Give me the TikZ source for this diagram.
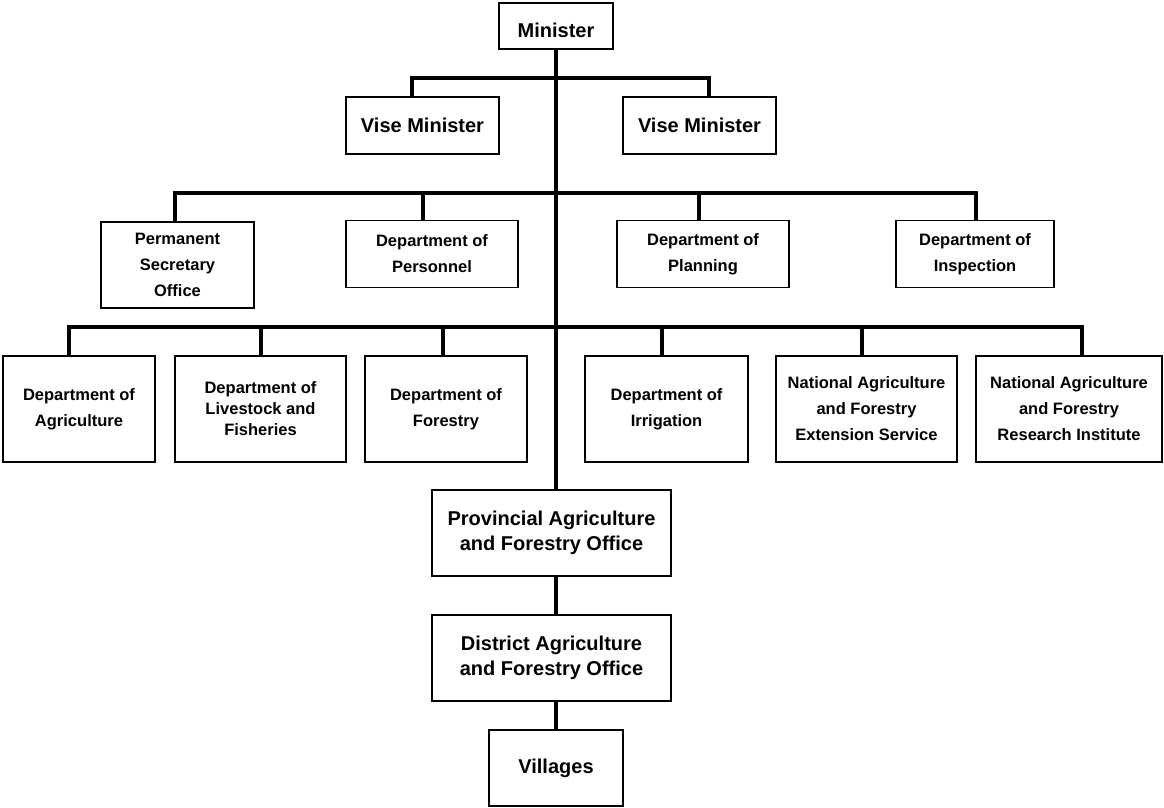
\documentclass[tikz,border=0pt]{standalone}
\usepackage{fontspec}
\setmainfont{Liberation Sans}
\begin{document}
\begin{tikzpicture}[x=1pt,y=-1pt,
  orgbox/.style={draw, line width=1.6pt, align=center, inner sep=0pt,
    font=\bfseries\fontsize{16.5}{26}\selectfont},
  bigbox/.style={orgbox, font=\bfseries\fontsize{20}{25}\selectfont},
  conn/.style={line width=3.2pt, line join=miter}]
\useasboundingbox (0,0) rectangle (1164,807);

% top
\node[bigbox, minimum width=114, minimum height=46, text height=22pt, text depth=0pt] (min) at (556,26) {Minister};
\node[bigbox, minimum width=153, minimum height=57] (vm1) at (422.5,125.5) {Vise Minister};
\node[bigbox, minimum width=153, minimum height=57] (vm2) at (699.5,125.5) {Vise Minister};

% row 2
\node[orgbox, minimum width=153, minimum height=86] (pso) at (177.5,265) {Permanent\\Secretary\\Office};
\node[orgbox, minimum width=172, minimum height=67] (per) at (432,254) {Department of\\Personnel};
\node[orgbox, minimum width=172, minimum height=67] (pla) at (703,254) {Department of\\Planning};
\node[orgbox, minimum width=158, minimum height=67] (ins) at (975,254) {Department of\\Inspection};

% row 3
\node[orgbox, minimum width=152, minimum height=106] (agr) at (79,409) {Department of\\Agriculture};
\node[orgbox, minimum width=171, minimum height=106, font=\bfseries\fontsize{16.5}{21}\selectfont] (liv) at (260.5,409) {Department of\\Livestock and\\Fisheries};
\node[orgbox, minimum width=162, minimum height=106] (for) at (446,409) {Department of\\Forestry};
\node[orgbox, minimum width=163, minimum height=106] (irr) at (666.5,409) {Department of\\Irrigation};
\node[orgbox, minimum width=181, minimum height=106] (nfs) at (866.5,409) {National Agriculture\\and Forestry\\Extension Service};
\node[orgbox, minimum width=186, minimum height=106] (nfr) at (1069,409) {National Agriculture\\and Forestry\\Research Institute};

% bottom chain
\node[bigbox, minimum width=239, minimum height=86] (prov) at (551.5,533) {Provincial Agriculture\\and Forestry Office};
\node[bigbox, minimum width=239, minimum height=86] (dist) at (551.5,658) {District Agriculture\\and Forestry Office};
\node[bigbox, minimum width=134, minimum height=76] (vil) at (556,768) {Villages};

% junction coordinates
\coordinate (b1l) at (412,78);
\coordinate (b1r) at (709,78);
\coordinate (b2a) at (175,193);
\coordinate (b2b) at (423,193);
\coordinate (b2c) at (699,193);
\coordinate (b2d) at (976,193);
\coordinate (b3a) at (69,327);
\coordinate (b3b) at (261,327);
\coordinate (b3c) at (443,327);
\coordinate (b3d) at (662,327);
\coordinate (b3e) at (862,327);
\coordinate (b3f) at (1082,327);

% connectors
\draw[conn] (min.south) -- (min.south |- prov.north);
\draw[conn] (b1l |- vm1.north) -- (b1l) -- (b1r) -- (b1r |- vm2.north);
\draw[conn] (b2a |- pso.north) -- (b2a) -- (b2d) -- (b2d |- ins.north);
\draw[conn] (b2b) -- (b2b |- per.north);
\draw[conn] (b2c) -- (b2c |- pla.north);
\draw[conn] (b3a |- agr.north) -- (b3a) -- (b3f) -- (b3f |- nfr.north);
\draw[conn] (b3b) -- (b3b |- liv.north);
\draw[conn] (b3c) -- (b3c |- for.north);
\draw[conn] (b3d) -- (b3d |- irr.north);
\draw[conn] (b3e) -- (b3e |- nfs.north);
\draw[conn] (vil.north |- prov.south) -- (vil.north |- dist.north);
\draw[conn] (vil.north |- dist.south) -- (vil.north);
\end{tikzpicture}
\end{document}
